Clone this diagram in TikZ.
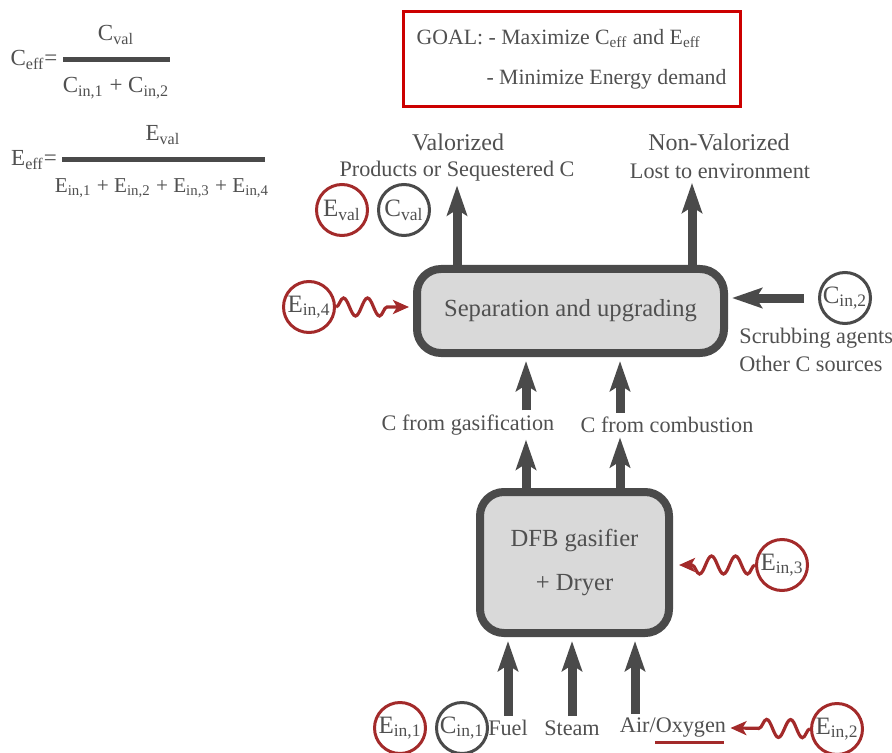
\documentclass[tikz,border=0pt]{standalone}
\usepackage{fontspec}
\setmainfont{Liberation Serif}
\usetikzlibrary{positioning, calc, arrows.meta, decorations.pathmorphing}
\definecolor{textgray}{HTML}{505050}
\definecolor{linegray}{HTML}{4A4A4A}
\definecolor{boxfill}{HTML}{D9D9D9}
\definecolor{energyred}{HTML}{A32A2A}
\definecolor{goalred}{HTML}{CC0000}

\begin{document}
\begin{tikzpicture}[
        x=0.5pt, y=-0.5pt,
        node distance=4pt,
        font=\fontsize{11.1}{13.5}\selectfont,
        text=textgray,
        every node/.style={inner sep=2pt},
        head/.style={font=\fontsize{12}{14}\selectfont},
        unit/.style={rectangle, rounded corners=12pt, draw=linegray, line width=4pt, fill=boxfill, align=center, font=\fontsize{12.3}{15}\selectfont},
        goalbox/.style={rectangle, draw=goalred, line width=1.5pt, minimum width=168.5pt, minimum height=47.5pt, align=left, font=\fontsize{10.9}{13}\selectfont},
        ecirc/.style={circle, draw=energyred, line width=1.5pt, minimum size=25.5pt, inner sep=0pt, font=\fontsize{12.5}{14}\selectfont},
        ccirc/.style={circle, draw=linegray, line width=1.5pt, minimum size=25.5pt, inner sep=0pt, font=\fontsize{12.5}{14}\selectfont},
        formula/.style={font=\fontsize{11.5}{14}\selectfont},
        flow/.style={draw=linegray, line width=4.5pt, -{Stealth[length=15pt, width=10pt, inset=3pt]}},
        wave/.style={draw=energyred, line width=1.6pt, decorate, decoration={snake, amplitude=4.5pt, segment length=12pt, post length=9pt}, -{Stealth[length=8pt, width=7pt, inset=2pt]}},
        frac/.style={draw=linegray, line width=2.5pt}
    ]
        \useasboundingbox (0,0) rectangle (892,753);

        % Efficiency formulas
        \node [formula] (ceff) at (34,60) {C\textsubscript{eff}=};
        \coordinate (cl) at (63,60);
        \coordinate (cr) at (170,60);
        \node [formula] (cnum) at (116,35) {C\textsubscript{val}};
        \node [formula] (cden) at (116,88) {C\textsubscript{in,1} + C\textsubscript{in,2}};
        \node [formula] (eeff) at (34,160) {E\textsubscript{eff}=};
        \coordinate (el) at (62,160);
        \coordinate (er) at (265,160);
        \node [formula] (enum) at (163,135) {E\textsubscript{val}};
        \node [formula, font=\fontsize{10.6}{13}\selectfont] (eden) at (162,188) {E\textsubscript{in,1} + E\textsubscript{in,2} + E\textsubscript{in,3} + E\textsubscript{in,4}};
        \draw [frac] (cl) -- (cr);
        \draw [frac] (el) -- (er);

        % Goal
        \node [goalbox] (goal) at (571.5,59) {GOAL: - Maximize C\textsubscript{eff} and E\textsubscript{eff}\\[7pt]\hspace*{35pt}- Minimize Energy demand};

        % Units
        \node [unit, minimum width=153.5pt, minimum height=42pt] (sep) at (570.5,311) {Separation and upgrading};
        \node [unit, minimum width=94.5pt, minimum height=70.5pt] (dfb) at (574.5,562.5) {DFB gasifier\\[7pt] + Dryer};

        % Labels
        \node [head] (val) at (458,142) {Valorized};
        \node (prod) at (457,171) {Products or Sequestered C};
        \node [head] (nval) at (719,142) {Non-Valorized};
        \node (lost) at (720,171) {Lost to environment};
        \node (gas) at (468,425) {C from gasification};
        \node (comb) at (667,425) {C from combustion};
        \node [anchor=west] (scrub) at (735,338) {Scrubbing agents};
        \node [anchor=west] (other) at (735,364) {Other C sources};
        \node (fuel) at (508,728) {Fuel};
        \node (steam) at (572,728) {Steam};
        \node (air) at (673,728) {Air/Oxygen};

        % Flow circles
        \node [ecirc] (eval) at (342,210) {E\textsubscript{val}};
        \node [ccirc, right=of eval] (cval) {C\textsubscript{val}};
        \node [ecirc] (ein4) at (309,307) {E\textsubscript{in,4}};
        \node [ccirc] (cin2) at (845,298) {C\textsubscript{in,2}};
        \node [ecirc] (ein3) at (782,565) {E\textsubscript{in,3}};
        \node [ecirc] (ein1) at (400,728) {E\textsubscript{in,1}};
        \node [ccirc, right=of ein1] (cin1) {C\textsubscript{in,1}};
        \node [ecirc] (ein2) at (837,729) {E\textsubscript{in,2}};

        % x positions of the arrows
        \coordinate (xn) at (692,0);
        \coordinate (xg) at (526,0);
        \coordinate (xc) at (620,0);
        \coordinate (xa) at (635,0);

        % Flows
        \draw [flow] (sep.north -| prod) -- (prod.south);
        \draw [flow] (sep.north -| xn) -- (lost.south -| xn);
        \draw [flow] (dfb.north -| xg) -- (gas.south -| xg);
        \draw [flow, shorten >=2pt] (gas.north -| xg) -- (sep.south -| xg);
        \draw [flow] (dfb.north -| xc) -- (comb.south -| xc);
        \draw [flow, shorten >=2pt] (comb.north -| xc) -- (sep.south -| xc);
        \draw [flow, shorten <=7pt, shorten >=2pt] (cin2) -- (cin2 -| sep.east);
        \draw [flow, shorten >=2pt] (fuel.north) -- (dfb.south -| fuel);
        \draw [flow, shorten >=2pt] (steam.north) -- (dfb.south -| steam);
        \draw [flow, shorten >=2pt] (air.north -| xa) -- (dfb.south -| xa);

        % Energy inputs
        \draw [wave, shorten >=2pt] (ein4) -- (ein4 -| sep.west);
        \draw [wave, shorten >=3pt] (ein3) -- (ein3 -| dfb.east);
        \draw [wave] (ein2) -- (air.east);
        \draw [energyred, line width=1.5pt] (655,742) -- (724,742);

    \end{tikzpicture}
\end{document}
